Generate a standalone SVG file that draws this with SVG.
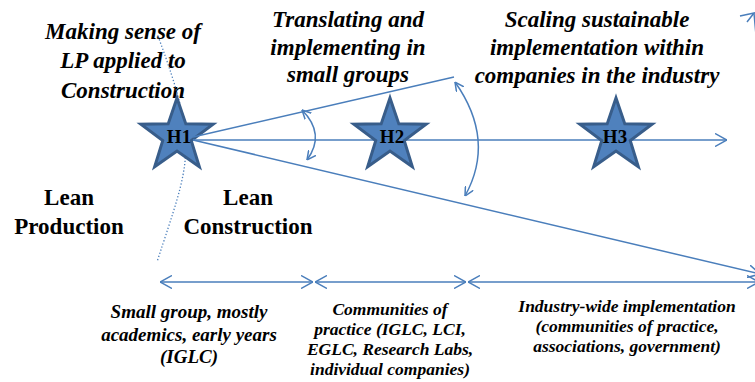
<svg xmlns="http://www.w3.org/2000/svg" width="755" height="382" viewBox="0 0 755 382">
<defs>
<marker id="ah" viewBox="0 0 12 14" markerWidth="12" markerHeight="14" refX="12" refY="7" orient="auto-start-reverse" markerUnits="userSpaceOnUse">
<path d="M0,0.5 L12,7 L0,13.5" fill="none" stroke="#4a7ebb" stroke-width="1.5"/>
</marker>
<marker id="sa" viewBox="0 0 9 10" markerWidth="9" markerHeight="10" refX="9" refY="5" orient="auto-start-reverse" markerUnits="userSpaceOnUse">
<path d="M0,0.5 L9,5 L0,9.5" fill="none" stroke="#4a7ebb" stroke-width="1.5"/>
</marker>
</defs>
<text x="123" y="38.5" font-family="Liberation Serif" font-weight="bold" font-style="italic" font-size="23" text-anchor="middle">Making sense of</text>
<text x="123" y="68" font-family="Liberation Serif" font-weight="bold" font-style="italic" font-size="23" text-anchor="middle">LP applied to</text>
<text x="123" y="97.5" font-family="Liberation Serif" font-weight="bold" font-style="italic" font-size="23" text-anchor="middle">Construction</text>
<text x="348" y="27" font-family="Liberation Serif" font-weight="bold" font-style="italic" font-size="23" text-anchor="middle">Translating and</text>
<text x="348" y="54.5" font-family="Liberation Serif" font-weight="bold" font-style="italic" font-size="23" text-anchor="middle">implementing in</text>
<text x="348" y="82" font-family="Liberation Serif" font-weight="bold" font-style="italic" font-size="23" text-anchor="middle">small groups</text>
<text x="597" y="27" font-family="Liberation Serif" font-weight="bold" font-style="italic" font-size="23" text-anchor="middle">Scaling sustainable</text>
<text x="597" y="55" font-family="Liberation Serif" font-weight="bold" font-style="italic" font-size="23" text-anchor="middle">implementation within</text>
<text x="597" y="83" font-family="Liberation Serif" font-weight="bold" font-style="italic" font-size="23" text-anchor="middle">companies in the industry</text>
<text x="69" y="205" font-family="Liberation Serif" font-weight="bold" font-size="23" text-anchor="middle">Lean</text>
<text x="69" y="234" font-family="Liberation Serif" font-weight="bold" font-size="23" text-anchor="middle">Production</text>
<text x="248" y="205" font-family="Liberation Serif" font-weight="bold" font-size="23" text-anchor="middle">Lean</text>
<text x="248" y="234" font-family="Liberation Serif" font-weight="bold" font-size="23" text-anchor="middle">Construction</text>
<text x="189" y="318" font-family="Liberation Serif" font-weight="bold" font-style="italic" font-size="19" text-anchor="middle">Small group, mostly</text>
<text x="189" y="341" font-family="Liberation Serif" font-weight="bold" font-style="italic" font-size="19" text-anchor="middle">academics, early years</text>
<text x="189" y="363" font-family="Liberation Serif" font-weight="bold" font-style="italic" font-size="19" text-anchor="middle">(IGLC)</text>
<text x="390" y="315" font-family="Liberation Serif" font-weight="bold" font-style="italic" font-size="17.5" text-anchor="middle">Communities of</text>
<text x="390" y="335" font-family="Liberation Serif" font-weight="bold" font-style="italic" font-size="17.5" text-anchor="middle">practice (IGLC, LCI,</text>
<text x="390" y="355" font-family="Liberation Serif" font-weight="bold" font-style="italic" font-size="17.5" text-anchor="middle">EGLC, Research Labs,</text>
<text x="390" y="375" font-family="Liberation Serif" font-weight="bold" font-style="italic" font-size="17.5" text-anchor="middle">individual companies)</text>
<text x="627" y="312" font-family="Liberation Serif" font-weight="bold" font-style="italic" font-size="17.5" text-anchor="middle">Industry-wide implementation</text>
<text x="627" y="332" font-family="Liberation Serif" font-weight="bold" font-style="italic" font-size="17.5" text-anchor="middle">(communities of practice,</text>
<text x="627" y="352" font-family="Liberation Serif" font-weight="bold" font-style="italic" font-size="17.5" text-anchor="middle">associations, government)</text>

<path d="M158,36 C200,150 190,160 157,262" fill="none" stroke="#4a7ebb" stroke-width="1.3" stroke-dasharray="1.3 2"/>

<g id="H1">
<polygon transform="translate(177,136)" points="0,-38 8.82,-12.14 36.14,-11.74 14.27,4.64 22.34,30.74 0,15 -22.34,30.74 -14.27,4.64 -36.14,-11.74 -8.82,-12.14" fill="#4f81bd" stroke="#385d8a" stroke-width="3"/>
<text x="179" y="143" font-family="Liberation Serif" font-weight="bold" font-size="19" text-anchor="middle">H1</text>
</g>

<g id="connectors" fill="none" stroke="#4a7ebb" stroke-width="1.5">
<line x1="193" y1="137" x2="454" y2="77"/>
<line x1="193" y1="140" x2="727" y2="140" marker-end="url(#ah)"/>
<line x1="193" y1="140" x2="760" y2="274" marker-end="url(#ah)"/>
<path d="M302,110 Q326,134 307,160" marker-start="url(#sa)" marker-end="url(#sa)"/>
<path d="M455,82 Q496,140 465,196" marker-start="url(#sa)" marker-end="url(#sa)"/>
<path d="M757,45 Q755,25 754,13"/>
<polyline points="740,16 754,13 747,22"/>
<line x1="160" y1="282" x2="313" y2="282" marker-start="url(#ah)" marker-end="url(#ah)"/>
<line x1="315" y1="282" x2="466" y2="282" marker-start="url(#ah)" marker-end="url(#ah)"/>
<line x1="468" y1="282" x2="759" y2="282" marker-start="url(#ah)" marker-end="url(#ah)"/>
</g>

<g id="H2">
<polygon transform="translate(390,136)" points="0,-38 8.82,-12.14 36.14,-11.74 14.27,4.64 22.34,30.74 0,15 -22.34,30.74 -14.27,4.64 -36.14,-11.74 -8.82,-12.14" fill="#4f81bd" stroke="#385d8a" stroke-width="3"/>
<text x="392" y="143" font-family="Liberation Serif" font-weight="bold" font-size="19" text-anchor="middle">H2</text>
</g>
<g id="H3">
<polygon transform="translate(616,136)" points="0,-38 8.82,-12.14 36.14,-11.74 14.27,4.64 22.34,30.74 0,15 -22.34,30.74 -14.27,4.64 -36.14,-11.74 -8.82,-12.14" fill="#4f81bd" stroke="#385d8a" stroke-width="3"/>
<text x="615" y="143" font-family="Liberation Serif" font-weight="bold" font-size="19" text-anchor="middle">H3</text>
</g>
</svg>
